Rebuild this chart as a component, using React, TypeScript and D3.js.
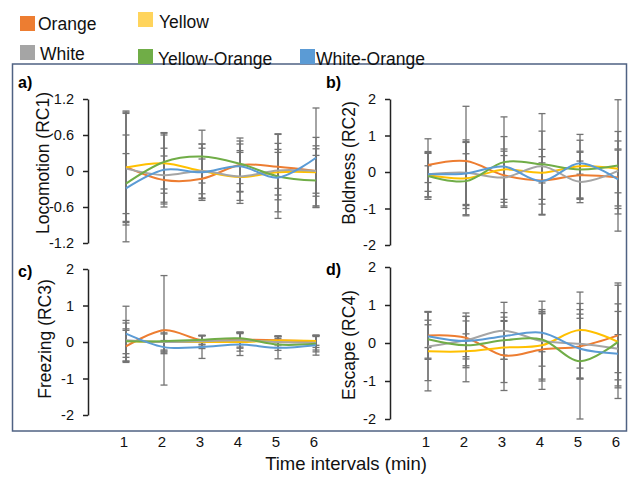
import React, { useEffect, useRef } from 'react';
import * as d3 from 'd3';

// time intervals (min)
const times = [1, 2, 3, 4, 5, 6];
const groups = ['Orange', 'Yellow', 'White', 'Yellow-Orange', 'White-Orange'];
const groupColors = ['#ED7D31', '#FFC000', '#A5A5A5', '#70AD47', '#5B9BD5'];
const legendColors = ['#ED7D31', '#FFD45C', '#A5A5A5', '#70AD47', '#5B9BD5'];

// rows follow groups: Orange, Yellow, White, Yellow-Orange, White-Orange
const locomotionMean = [
  [0.07, -0.15, -0.13, 0.1, 0.07, 0],
  [0.06, 0.13, 0, -0.1, -0.02, -0.02],
  [0.04, -0.07, 0, -0.09, 0.01, 0],
  [-0.21, 0.15, 0.24, 0.12, -0.09, -0.16],
  [-0.29, 0.02, -0.02, 0.08, -0.11, 0.22],
];
const locomotionErr = [
  [0.93, 0.4, 0.33, 0.45, 0.55, 0.42],
  [0.9, 0.5, 0.45, 0.44, 0.38, 0.58],
  [0.94, 0.45, 0.38, 0.4, 0.3, 0.37],
  [0.5, 0.45, 0.44, 0.33, 0.7, 0.42],
  [0.89, 0.62, 0.47, 0.42, 0.57, 0.83],
];

const boldnessMean = [
  [0.19, 0.3, -0.09, -0.23, -0.09, -0.15],
  [-0.09, -0.17, 0.07, -0.02, 0.16, 0.09],
  [-0.06, -0.02, -0.15, 0.16, -0.27, 0.03],
  [-0.11, -0.25, 0.27, 0.21, 0.07, 0.18],
  [-0.06, -0.04, 0.15, -0.25, 0.24, -0.2],
];
const boldnessErr = [
  [0.72, 1.5, 0.66, 0.65, 0.66, 1.0],
  [0.6, 1.0, 0.9, 1.14, 0.87, 1.02],
  [0.62, 0.9, 0.78, 0.46, 0.57, 0.6],
  [0.64, 0.75, 1.24, 1.39, 0.8, 1.8],
  [0.23, 0.85, 0.3, 0.5, 0.3, 0.8],
];

const freezingMean = [
  [-0.12, 0.32, 0.05, 0.06, 0.05, 0.02],
  [0.03, 0, 0, 0, 0.04, 0.03],
  [0.05, 0, 0.02, 0.05, 0, -0.02],
  [0.02, 0.02, 0.06, 0.1, -0.07, -0.05],
  [0.23, -0.14, -0.14, -0.07, -0.16, -0.09],
];
const freezingErr = [
  [0.44, 1.5, 0.13, 0.2, 0.12, 0.17],
  [0.56, 0.25, 0.18, 0.25, 0.12, 0.12],
  [0.47, 0.22, 0.15, 0.22, 0.15, 0.2],
  [0.34, 0.3, 0.12, 0.17, 0.16, 0.22],
  [0.75, 0.18, 0.31, 0.3, 0.3, 0.27],
];

const escapeMean = [
  [0.2, 0.14, -0.33, -0.17, -0.09, 0.2],
  [-0.22, -0.22, -0.12, -0.06, 0.34, 0.03],
  [-0.09, 0.07, 0.32, 0.05, -0.02, -0.15],
  [0.1, -0.06, 0.07, 0.09, -0.48, 0.03],
  [0.18, 0.05, 0.18, 0.27, -0.15, -0.28],
];
const escapeErr = [
  [0.63, 0.56, 0.92, 1.05, 0.85, 1.38],
  [1.04, 0.8, 0.92, 0.89, 1.0, 1.0],
  [0.9, 0.72, 0.75, 1.05, 0.9, 0.98],
  [0.5, 0.3, 0.5, 0.7, 1.52, 1.49],
  [0.3, 0.65, 0.5, 0.5, 0.8, 0.5],
];

const locomotionTicks = [-1.2, -0.6, 0, 0.6, 1.2];
const rcTicks = [-2, -1, 0, 1, 2];

const App = () => {
  const ref = useRef<SVGSVGElement>(null);

  useEffect(() => {
    const svg = d3.select(ref.current);
    svg.selectAll('*').remove();
    const font = 'Liberation Sans, Arial, sans-serif';

    // outer frame
    svg
      .append('rect')
      .attr('x', 12.5)
      .attr('y', 64)
      .attr('width', 614)
      .attr('height', 367)
      .attr('fill', 'none')
      .attr('stroke', '#4F6283')
      .attr('stroke-width', 1.5);

    // legend
    const legendPos = [
      { sx: 20, sy: 16, tx: 38, ty: 30 },
      { sx: 138, sy: 12, tx: 159, ty: 28 },
      { sx: 20, sy: 45, tx: 40, ty: 60 },
      { sx: 138, sy: 49, tx: 158, ty: 65 },
      { sx: 300, sy: 49, tx: 316, ty: 65 },
    ];
    groups.forEach((g, i) => {
      const p = legendPos[i];
      svg
        .append('rect')
        .attr('x', p.sx)
        .attr('y', p.sy)
        .attr('width', 15)
        .attr('height', 15)
        .attr('fill', legendColors[i]);
      svg
        .append('text')
        .attr('x', p.tx)
        .attr('y', p.ty)
        .attr('font-family', font)
        .attr('font-size', 17.5)
        .attr('fill', '#111')
        .text(g);
    });

    const panels = [
      { label: 'a)', lx: 18, ly: 88, title: 'Locomotion (RC1)', tx: 43, ty: 163, axisX: 88, top: 99, bottom: 243, dom: [-1.2, 1.2], ticks: locomotionTicks, mean: locomotionMean, err: locomotionErr },
      { label: 'b)', lx: 326, ly: 88, title: 'Boldness (RC2)', tx: 349, ty: 163, axisX: 390, top: 99, bottom: 245, dom: [-2, 2], ticks: rcTicks, mean: boldnessMean, err: boldnessErr },
      { label: 'c)', lx: 18, ly: 277, title: 'Freezing (RC3)', tx: 45, ty: 339, axisX: 88, top: 269, bottom: 415, dom: [-2, 2], ticks: rcTicks, mean: freezingMean, err: freezingErr },
      { label: 'd)', lx: 326, ly: 275, title: 'Escape (RC4)', tx: 349, ty: 345, axisX: 390, top: 267, bottom: 419, dom: [-2, 2], ticks: rcTicks, mean: escapeMean, err: escapeErr },
    ];

    panels.forEach((p) => {
      const g = svg.append('g');
      const x = d3.scaleLinear().domain([0, 6]).range([p.axisX, p.axisX + 228]);
      const y = d3.scaleLinear().domain(p.dom).range([p.bottom, p.top]);

      // y axis
      const axis = d3
        .axisLeft(y)
        .tickValues(p.ticks)
        .tickSize(5)
        .tickSizeOuter(0)
        .tickPadding(9)
        .tickFormat((d) => String(d));
      const ag = g.append('g').attr('transform', `translate(${p.axisX},0)`).call(axis);
      ag.select('.domain').attr('stroke', '#222').attr('stroke-width', 1.5);
      ag.selectAll('.tick line').attr('stroke', '#222').attr('stroke-width', 1.5);
      ag.selectAll('.tick text')
        .attr('font-family', font)
        .attr('font-size', 14.5)
        .attr('fill', '#111');

      // panel label
      g.append('text')
        .attr('x', p.lx)
        .attr('y', p.ly)
        .attr('font-family', font)
        .attr('font-size', 16)
        .attr('font-weight', 'bold')
        .text(p.label);

      // axis title
      g.append('text')
        .attr('transform', `translate(${p.tx},${p.ty}) rotate(-90)`)
        .attr('text-anchor', 'middle')
        .attr('dominant-baseline', 'central')
        .attr('font-family', font)
        .attr('font-size', 17.5)
        .attr('fill', '#111')
        .text(p.title);

      // error bars
      p.mean.forEach((row, si) => {
        row.forEach((m, ti) => {
          const e = p.err[si][ti];
          const cx = x(times[ti]);
          const bar = g.append('g').attr('stroke', '#737373').attr('stroke-width', 1.3);
          bar.append('line').attr('x1', cx).attr('x2', cx).attr('y1', y(m - e)).attr('y2', y(m + e));
          [m - e, m + e].forEach((v) => {
            bar.append('line').attr('x1', cx - 3.5).attr('x2', cx + 3.5).attr('y1', y(v)).attr('y2', y(v));
          });
        });
      });

      // smoothed lines
      const line = d3
        .line<number>()
        .x((d, i) => x(times[i]))
        .y((d) => y(d))
        .curve(d3.curveCardinal.tension(0));
      p.mean.forEach((row, si) => {
        g.append('path')
          .attr('d', line(row))
          .attr('fill', 'none')
          .attr('stroke', groupColors[si])
          .attr('stroke-width', 2);
      });
    });

    // x tick labels below frame
    [88, 390].forEach((ax) => {
      const x = d3.scaleLinear().domain([0, 6]).range([ax, ax + 228]);
      times.forEach((t) => {
        svg
          .append('text')
          .attr('x', x(t) - 2)
          .attr('y', 447)
          .attr('text-anchor', 'middle')
          .attr('font-family', font)
          .attr('font-size', 15)
          .attr('fill', '#111')
          .text(t);
      });
    });

    svg
      .append('text')
      .attr('x', 346)
      .attr('y', 470)
      .attr('text-anchor', 'middle')
      .attr('font-family', font)
      .attr('font-size', 18.5)
      .attr('fill', '#111')
      .text('Time intervals (min)');
  }, []);

  return (
    <svg
      ref={ref}
      width={631}
      height={477}
      style={{ position: 'absolute', left: 0, top: 0, background: '#fff' }}
    />
  );
};

export default App;
